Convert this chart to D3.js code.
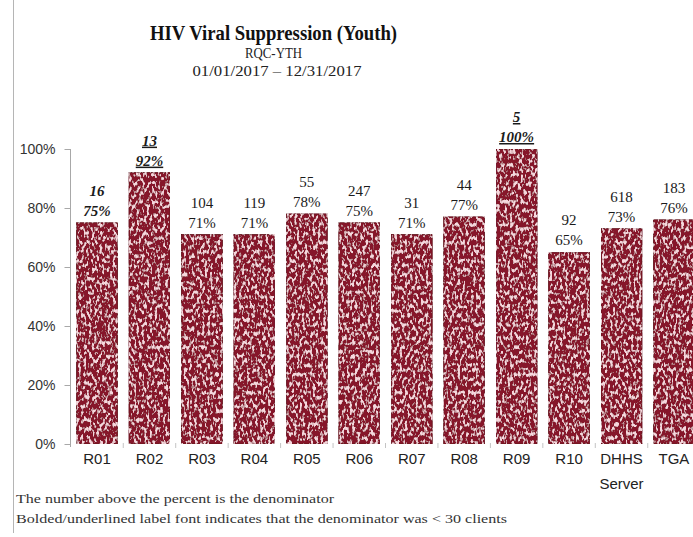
<!DOCTYPE html>
<html>
<head>
<meta charset="utf-8">
<script src="https://cdn.jsdelivr.net/npm/d3@7"></script>
<style>
  html, body { margin: 0; padding: 0; background: #fff; }
  svg { display: block; }
</style>
</head>
<body>
<svg id="chart" width="693" height="537"></svg>
<script>
// Regions reported and their youth viral suppression rates for 2017
const categories = ["R01", "R02", "R03", "R04", "R05", "R06", "R07", "R08", "R09", "R10", "DHHS Server", "TGA"];
const suppressionPct = [75, 92, 71, 71, 78, 75, 71, 77, 100, 65, 73, 76];
const denominators = [16, 13, 104, 119, 55, 247, 31, 44, 5, 92, 618, 183];
const underlinedLabels = ["R02", "R09"];
const yTicks = [0, 20, 40, 60, 80, 100];
const titleText = "HIV Viral Suppression (Youth)";
const subtitleText = "RQC-YTH";
const periodText = "01/01/2017 – 12/31/2017";
const notes = [
  "The number above the percent is the denominator",
  "Bolded/underlined label font indicates that the denominator was < 30 clients"
];

const svg = d3.select("#chart");
const serif = "'Liberation Serif', 'DejaVu Serif', serif";
const sans = "'Liberation Sans', Arial, sans-serif";

// speckled fill for the bars
const defs = svg.append("defs");
const f = defs.append("filter").attr("id", "speckle")
  .attr("x", 0).attr("y", 0).attr("width", 1).attr("height", 1);
f.append("feTurbulence").attr("type", "fractalNoise")
  .attr("baseFrequency", "0.38 0.22").attr("numOctaves", 2).attr("seed", 5).attr("result", "n");
f.append("feColorMatrix").attr("in", "n").attr("type", "matrix")
  .attr("values", "0 0 0 0 0.92  0 0 0 0 0.68  0 0 0 0 0.72  6 0 0 0 -3.05")
  .attr("result", "spk");
f.append("feGaussianBlur").attr("in", "spk").attr("stdDeviation", 0.4).attr("result", "soft");
f.append("feComposite").attr("in", "soft").attr("in2", "SourceGraphic").attr("operator", "in").attr("result", "clip");
const merge = f.append("feMerge");
merge.append("feMergeNode").attr("in", "SourceGraphic");
merge.append("feMergeNode").attr("in", "clip");

// page border on the left
svg.append("line").attr("x1", 13.5).attr("x2", 13.5).attr("y1", 0).attr("y2", 533)
  .attr("stroke", "#b5b5b5").attr("stroke-width", 1);

// titles
svg.append("text").attr("x", 273.5).attr("y", 40).attr("text-anchor", "middle")
  .attr("font-family", serif).attr("font-weight", "bold").attr("font-size", 20)
  .attr("textLength", 247).attr("lengthAdjust", "spacingAndGlyphs")
  .attr("fill", "#111").text(titleText);
svg.append("text").attr("x", 273.5).attr("y", 58).attr("text-anchor", "middle")
  .attr("font-family", serif).attr("font-size", 14)
  .attr("textLength", 57).attr("lengthAdjust", "spacingAndGlyphs")
  .attr("fill", "#222").text(subtitleText);
svg.append("text").attr("x", 277).attr("y", 76).attr("text-anchor", "middle")
  .attr("font-family", serif).attr("font-size", 15)
  .attr("textLength", 169).attr("lengthAdjust", "spacingAndGlyphs")
  .attr("fill", "#222").text(periodText);

// scales
const x = d3.scaleBand().domain(categories).range([70.5, 700.5])
  .paddingInner(0.218).paddingOuter(0.115);
const y = d3.scaleLinear().domain([0, 100]).range([444, 149]);

// y axis
const yAxis = svg.append("g").attr("transform", "translate(70.5,0)")
  .call(d3.axisLeft(y).tickValues(yTicks).tickFormat(d => d + "%").tickSize(6).tickPadding(9));
yAxis.select(".domain").attr("stroke", "#a8a8a8").attr("d", "M0,149V447");
yAxis.selectAll(".tick line").attr("stroke", "#a8a8a8");
yAxis.selectAll(".tick text").attr("font-family", sans).attr("font-size", 14).attr("fill", "#333");

// x axis: small ticks between categories, no baseline
const xAxis = svg.append("g").attr("transform", "translate(0,443)")
  .call(d3.axisBottom(x).tickSize(0).tickPadding(14));
xAxis.select(".domain").remove();
xAxis.selectAll(".tick text").attr("font-family", sans).attr("font-size", 15)
  .attr("fill", "#222").attr("dy", null)
  .each(function(d) {
    const t = d3.select(this);
    const words = d.split(" ");
    t.text(null);
    words.forEach((w, i) => {
      t.append("tspan").attr("x", 0).attr("y", 21 + i * 25).text(w);
    });
  });
const edges = categories.slice(1).map(c => x(c) - (x.step() - x.bandwidth()) / 2);
svg.append("g").selectAll("line").data(edges).join("line")
  .attr("x1", d => d).attr("x2", d => d).attr("y1", 443).attr("y2", 448)
  .attr("stroke", "#c4c4c4");

// bars
svg.append("g").selectAll("rect").data(categories).join("rect")
  .attr("x", d => x(d))
  .attr("y", (d, i) => y(suppressionPct[i]))
  .attr("width", x.bandwidth())
  .attr("height", (d, i) => y(0) - y(suppressionPct[i]))
  .attr("fill", "#86192c")
  .attr("stroke", "#5e0a18").attr("stroke-width", 0.8)
  .attr("filter", "url(#speckle)");

// value labels: denominator above percent
const labels = svg.append("g").selectAll("g").data(categories).join("g")
  .attr("transform", (d, i) => `translate(${x(d) + x.bandwidth() / 2},${y(suppressionPct[i]) - 7})`);
labels.each(function(d, i) {
  const g = d3.select(this);
  const small = denominators[i] < 30;
  const underline = underlinedLabels.includes(d);
  [String(denominators[i]), suppressionPct[i] + "%"].forEach((s, k) => {
    g.append("text").attr("y", k === 0 ? -20 : 0).attr("text-anchor", "middle")
      .attr("font-family", serif).attr("font-size", 15)
      .attr("font-weight", small ? "bold" : "normal")
      .attr("font-style", small ? "italic" : "normal")
      .attr("text-decoration", underline ? "underline" : null)
      .attr("fill", "#1a1a1a").text(s);
  });
});

// footnotes
svg.append("g").selectAll("text").data(notes).join("text")
  .attr("x", 16).attr("y", (d, i) => 503 + i * 20)
  .attr("font-family", serif).attr("font-size", 13.5).attr("fill", "#333")
  .attr("textLength", (d, i) => [318, 491][i]).attr("lengthAdjust", "spacingAndGlyphs")
  .text(d => d);
</script>
</body>
</html>
